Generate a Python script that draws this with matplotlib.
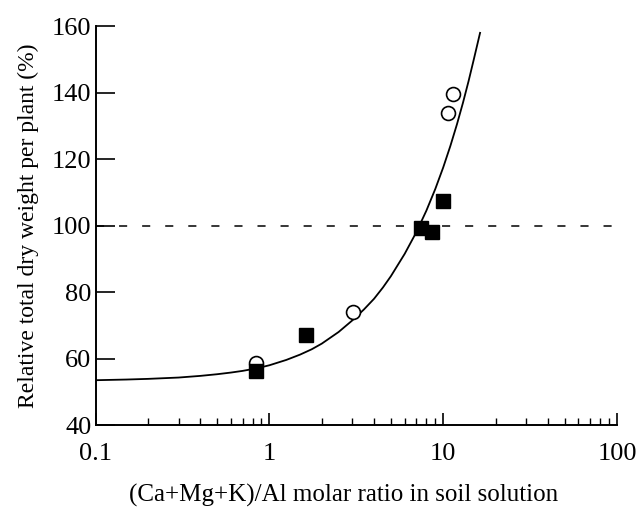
import numpy as np
import matplotlib.pyplot as plt

# Relatives Trockengewicht vs. (Ca+Mg+K)/Al Verhältnis
circle_x = [0.84, 3.04, 10.7, 11.4]
circle_y = [58.8, 74.0, 134.0, 139.7]

square_x = [0.84, 1.63, 7.5, 8.6, 10.0]
square_y = [56.3, 67.2, 99.2, 98.0, 107.3]

# Kurve
curve_x = [0.1, 0.15, 0.2, 0.3, 0.4, 0.5, 0.6, 0.7, 0.85, 1.0, 1.25, 1.5,
           1.75, 2, 2.5, 3, 3.5, 4, 4.5, 5, 6, 7, 8, 9, 10,
           11, 12, 13, 14, 15, 16.3]
curve_y = [53.5, 53.7, 53.9, 54.3, 54.8, 55.3, 55.8, 56.3, 57.1, 58.0,
           59.6, 61.2, 62.8, 64.5, 68.0, 71.5, 74.8, 78.0, 81.4, 84.8,
           91.5, 98.0, 104.5, 111.0, 117.5, 124.0, 130.5, 137.0, 143.5,
           150.0, 158.0]

ref_x = [0.1, 100]
ref_y = [100, 100]

plt.rcParams['font.family'] = ['Liberation Serif', 'DejaVu Serif']

fig = plt.figure(figsize=(6.38, 5.14), dpi=100)
ax = fig.add_axes([0.150, 0.173, 0.817, 0.776])

ax.plot(ref_x, ref_y, color="black", lw=1.1, dashes=(5.3, 9.8))
ax.plot(curve_x, curve_y, color="black", lw=1.3)
ax.plot(circle_x, circle_y, "o", ms=10, mfc="white", mec="black", mew=1.2)
ax.plot(square_x, square_y, "s", ms=9.5, color="black")

ax.set_xscale("log")
ax.set_xlim(0.1, 100)
ax.set_ylim(40, 160)
ax.set_xticks([0.1, 1, 10, 100])
ax.set_xticklabels(["0.1", "1", "10", "100"])
ax.set_yticks([40, 60, 80, 100, 120, 140, 160])

for s in ["top", "right"]:
    ax.spines[s].set_visible(False)
for s in ["left", "bottom"]:
    ax.spines[s].set_linewidth(1.4)

ax.tick_params(axis="x", which="major", direction="in", length=9, width=1.2,
               pad=13, labelsize=19)
ax.tick_params(axis="x", which="minor", direction="in", length=5, width=1.0)
ax.tick_params(axis="y", which="major", direction="in", length=14, width=1.2,
               pad=3, labelsize=19)
ax.tick_params(axis="y", which="minor", left=False)

ax.set_xlabel("(Ca+Mg+K)/Al molar ratio in soil solution", fontsize=18)
ax.xaxis.set_label_coords(0.476, -0.148)
ax.set_ylabel("Relative total dry weight per plant (%)", fontsize=17, labelpad=9)

fig.savefig("out.png", dpi=100)
